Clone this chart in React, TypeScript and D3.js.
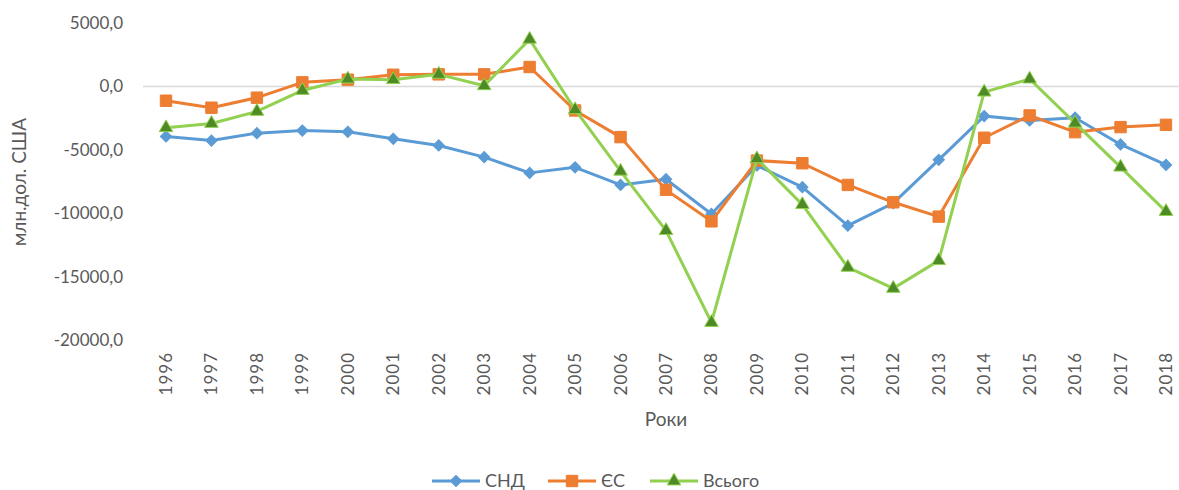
import { useRef, useEffect } from 'react';
import * as d3 from 'd3';

const years = [
    '1996', '1997', '1998', '1999', '2000', '2001', '2002', '2003', '2004', '2005', '2006', '2007',
    '2008', '2009', '2010', '2011', '2012', '2013', '2014', '2015', '2016', '2017', '2018',
];

const cis = [
    -3950, -4270, -3690, -3480, -3580, -4130, -4660, -5580, -6820, -6380, -7770, -7320,
    -10060, -6240, -7950, -10980, -9200, -5790, -2340, -2690, -2470, -4580, -6190,
];

const eu = [
    -1130, -1680, -890, 320, 530, 920, 950, 950, 1530, -1900, -4000, -8160,
    -10640, -5850, -6060, -7770, -9140, -10270, -4050, -2290, -3610, -3210, -3030,
];

const total = [
    -3260, -2920, -1975, -320, 580, 530, 950, 50, 3710, -1840, -6690, -11370,
    -18620, -5710, -9320, -14270, -15930, -13740, -450, 580, -2900, -6370, -9870,
];

const yTicks = [5000, 0, -5000, -10000, -15000, -20000];

const seriesNames = ['СНД', 'ЄС', 'Всього'];

const FONT = 'Lato, "Open Sans", sans-serif';
const TEXT = '#595959';

export default function App() {
    const svgRef = useRef<SVGSVGElement>(null);

    useEffect(() => {
        if (!svgRef.current) return;
        document.body.style.margin = '0';

        const width = 1179;
        const height = 490;

        d3.select(svgRef.current).selectAll('*').remove();
        const svg = d3.select(svgRef.current)
            .attr('width', width)
            .attr('height', height)
            .style('font-family', FONT);

        const x = d3.scalePoint<string>().domain(years).range([166, 1166]);
        const y = d3.scaleLinear().domain([-20000, 5000]).range([340, 23]);

        // zero line
        svg.append('line')
            .attr('x1', 143).attr('x2', width)
            .attr('y1', y(0)).attr('y2', y(0))
            .attr('stroke', '#d9d9d9')
            .attr('stroke-width', 1.5);

        // y tick labels
        svg.append('g')
            .selectAll('text')
            .data(yTicks)
            .enter()
            .append('text')
            .attr('x', 123)
            .attr('y', d => y(d))
            .attr('dy', '0.35em')
            .attr('text-anchor', 'end')
            .attr('fill', TEXT)
            .style('font-size', '17px')
            .text(d => d3.format('.1f')(d).replace('.', ',').replace('−', '-'));

        // x tick labels (rotated)
        svg.append('g')
            .selectAll('text')
            .data(years)
            .enter()
            .append('text')
            .attr('transform', d => `translate(${x(d)! + 6},352) rotate(-90)`)
            .attr('text-anchor', 'end')
            .attr('fill', TEXT)
            .style('font-size', '17px')
            .style('letter-spacing', '1px')
            .text(d => d);

        // axis titles
        svg.append('text')
            .attr('x', 666).attr('y', 426)
            .attr('text-anchor', 'middle')
            .attr('fill', TEXT)
            .style('font-size', '19px')
            .text('Роки');

        svg.append('text')
            .attr('transform', 'translate(26,182) rotate(-90)')
            .attr('text-anchor', 'middle')
            .attr('fill', TEXT)
            .style('font-size', '19px')
            .text('млн.дол. США');

        const series = [
            { name: seriesNames[0], values: cis, line: '#5B9BD5', fill: '#5B9BD5', stroke: '#5B9BD5', symbol: d3.symbolSquare, size: 64, rot: 45 },
            { name: seriesNames[1], values: eu, line: '#ED7D31', fill: '#ED7D31', stroke: '#ED7D31', symbol: d3.symbolSquare, size: 130, rot: 0 },
            { name: seriesNames[2], values: total, line: '#92D050', fill: '#4E8A25', stroke: '#92D050', symbol: d3.symbolTriangle, size: 80, rot: 0 },
        ];

        const line = d3.line<number>()
            .x((_d, i) => x(years[i])!)
            .y(d => y(d));

        series.forEach(s => {
            const g = svg.append('g');
            g.append('path')
                .datum(s.values)
                .attr('d', line)
                .attr('fill', 'none')
                .attr('stroke', s.line)
                .attr('stroke-width', 3)
                .attr('stroke-linejoin', 'round');

            g.selectAll('path.marker')
                .data(s.values)
                .enter()
                .append('path')
                .attr('class', 'marker')
                .attr('d', d3.symbol().type(s.symbol).size(s.size)())
                .attr('transform', (d, i) => `translate(${x(years[i])},${y(d)}) rotate(${s.rot})`)
                .attr('fill', s.fill)
                .attr('stroke', s.stroke)
                .attr('stroke-width', 1);
        });

        // legend
        const legendItems = [
            { s: series[0], x0: 432 },
            { s: series[1], x0: 548 },
            { s: series[2], x0: 650 },
        ];
        const ly = 481;
        legendItems.forEach(({ s, x0 }) => {
            const lg = svg.append('g');
            lg.append('line')
                .attr('x1', x0).attr('x2', x0 + 48)
                .attr('y1', ly).attr('y2', ly)
                .attr('stroke', s.line)
                .attr('stroke-width', 3);
            lg.append('path')
                .attr('d', d3.symbol().type(s.symbol).size(s.size)())
                .attr('transform', `translate(${x0 + 24},${ly}) rotate(${s.rot})`)
                .attr('fill', s.fill)
                .attr('stroke', s.stroke)
                .attr('stroke-width', 1);
            lg.append('text')
                .attr('x', x0 + 53)
                .attr('y', ly)
                .attr('dy', '0.35em')
                .attr('fill', TEXT)
                .style('font-size', '18px')
                .text(s.name);
        });
    }, []);

    return <svg ref={svgRef} style={{ display: 'block' }}></svg>;
}
